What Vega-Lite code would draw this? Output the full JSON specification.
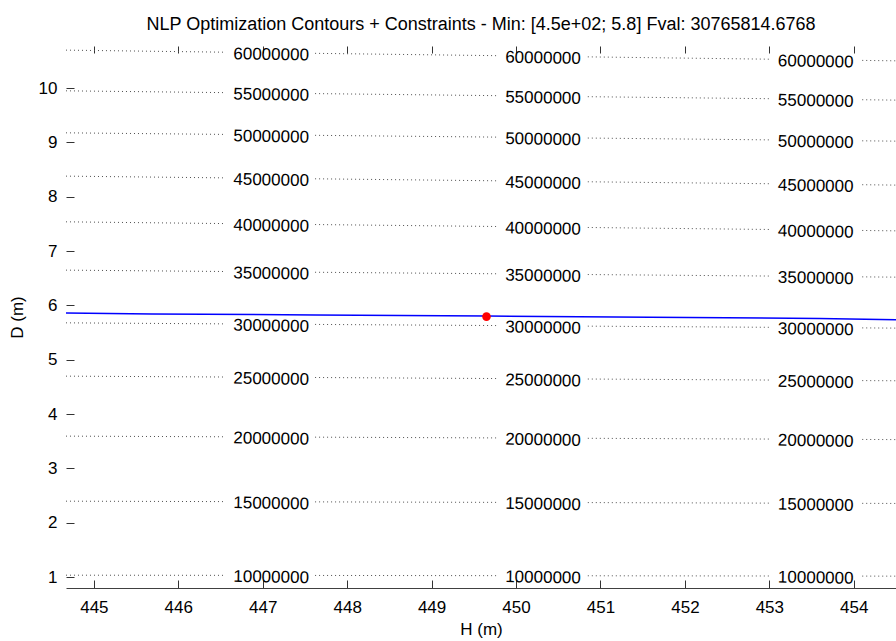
{
  "$schema": "https://vega.github.io/schema/vega-lite/v6.json",
  "autosize": {"type": "none"},
  "padding": {"left": 66, "top": 46, "right": 0, "bottom": 53},
  "width": 830,
  "height": 542,
  "background": "white",
  "config": {
    "font": "Liberation Sans",
    "view": {"stroke": null},
    "axis": {"grid": false}
  },
  "title": {
    "text": "NLP Optimization Contours + Constraints - Min: [4.5e+02; 5.8] Fval: 30765814.6768",
    "fontSize": 18,
    "fontWeight": "normal",
    "color": "#000000",
    "font": "Liberation Sans",
    "offset": 11,
    "anchor": "middle"
  },
  "datasets": {
    "contours": [
      {"k":"60-1","H":444.67,"D":10.699},{"k":"60-1","H":446.55,"D":10.661},
      {"k":"60-2","H":447.62,"D":10.640},{"k":"60-2","H":449.77,"D":10.597},
      {"k":"60-3","H":450.85,"D":10.575},{"k":"60-3","H":453.01,"D":10.532},
      {"k":"60-4","H":454.10,"D":10.510},{"k":"60-4","H":454.5,"D":10.502},
      {"k":"55-1","H":444.67,"D":9.950},{"k":"55-1","H":446.55,"D":9.917},
      {"k":"55-2","H":447.62,"D":9.899},{"k":"55-2","H":449.77,"D":9.861},
      {"k":"55-3","H":450.85,"D":9.842},{"k":"55-3","H":453.01,"D":9.805},
      {"k":"55-4","H":454.10,"D":9.786},{"k":"55-4","H":454.5,"D":9.779},
      {"k":"50-1","H":444.67,"D":9.177},{"k":"50-1","H":446.55,"D":9.148},
      {"k":"50-2","H":447.62,"D":9.131},{"k":"50-2","H":449.77,"D":9.098},
      {"k":"50-3","H":450.85,"D":9.081},{"k":"50-3","H":453.01,"D":9.047},
      {"k":"50-4","H":454.10,"D":9.030},{"k":"50-4","H":454.5,"D":9.024},
      {"k":"45-1","H":444.67,"D":8.380},{"k":"45-1","H":446.55,"D":8.348},
      {"k":"45-2","H":447.62,"D":8.331},{"k":"45-2","H":449.77,"D":8.294},
      {"k":"45-3","H":450.85,"D":8.276},{"k":"45-3","H":453.01,"D":8.240},
      {"k":"45-4","H":454.10,"D":8.222},{"k":"45-4","H":454.5,"D":8.215},
      {"k":"40-1","H":444.67,"D":7.539},{"k":"40-1","H":446.55,"D":7.507},
      {"k":"40-2","H":447.62,"D":7.489},{"k":"40-2","H":449.77,"D":7.453},
      {"k":"40-3","H":450.85,"D":7.435},{"k":"40-3","H":453.01,"D":7.398},
      {"k":"40-4","H":454.10,"D":7.380},{"k":"40-4","H":454.5,"D":7.373},
      {"k":"35-1","H":444.67,"D":6.650},{"k":"35-1","H":446.55,"D":6.625},
      {"k":"35-2","H":447.62,"D":6.611},{"k":"35-2","H":449.77,"D":6.583},
      {"k":"35-3","H":450.85,"D":6.569},{"k":"35-3","H":453.01,"D":6.541},
      {"k":"35-4","H":454.10,"D":6.526},{"k":"35-4","H":454.5,"D":6.521},
      {"k":"30-1","H":444.67,"D":5.680},{"k":"30-1","H":446.55,"D":5.661},
      {"k":"30-2","H":447.62,"D":5.651},{"k":"30-2","H":449.77,"D":5.630},
      {"k":"30-3","H":450.85,"D":5.619},{"k":"30-3","H":453.01,"D":5.598},
      {"k":"30-4","H":454.10,"D":5.587},{"k":"30-4","H":454.5,"D":5.583},
      {"k":"25-1","H":444.67,"D":4.699},{"k":"25-1","H":446.55,"D":4.683},
      {"k":"25-2","H":447.62,"D":4.674},{"k":"25-2","H":449.77,"D":4.655},
      {"k":"25-3","H":450.85,"D":4.646},{"k":"25-3","H":453.01,"D":4.627},
      {"k":"25-4","H":454.10,"D":4.617},{"k":"25-4","H":454.5,"D":4.614},
      {"k":"20-1","H":444.67,"D":3.595},{"k":"20-1","H":446.55,"D":3.583},
      {"k":"20-2","H":447.62,"D":3.576},{"k":"20-2","H":449.77,"D":3.562},
      {"k":"20-3","H":450.85,"D":3.555},{"k":"20-3","H":453.01,"D":3.541},
      {"k":"20-4","H":454.10,"D":3.534},{"k":"20-4","H":454.5,"D":3.531},
      {"k":"15-1","H":444.67,"D":2.398},{"k":"15-1","H":446.55,"D":2.390},
      {"k":"15-2","H":447.62,"D":2.385},{"k":"15-2","H":449.77,"D":2.376},
      {"k":"15-3","H":450.85,"D":2.372},{"k":"15-3","H":453.01,"D":2.362},
      {"k":"15-4","H":454.10,"D":2.358},{"k":"15-4","H":454.5,"D":2.356},
      {"k":"10-1","H":444.67,"D":1.036},{"k":"10-1","H":446.55,"D":1.033},
      {"k":"10-2","H":447.62,"D":1.031},{"k":"10-2","H":449.77,"D":1.027},
      {"k":"10-3","H":450.85,"D":1.025},{"k":"10-3","H":453.01,"D":1.021},
      {"k":"10-4","H":454.10,"D":1.019},{"k":"10-4","H":454.5,"D":1.018}
    ],
    "labels": [
      {"t":"60000000","H":447.10,"D":10.650},{"t":"60000000","H":450.32,"D":10.586},{"t":"60000000","H":453.55,"D":10.521},
      {"t":"55000000","H":447.10,"D":9.908},{"t":"55000000","H":450.32,"D":9.852},{"t":"55000000","H":453.55,"D":9.796},
      {"t":"50000000","H":447.10,"D":9.139},{"t":"50000000","H":450.32,"D":9.089},{"t":"50000000","H":453.55,"D":9.039},
      {"t":"45000000","H":447.10,"D":8.339},{"t":"45000000","H":450.32,"D":8.285},{"t":"45000000","H":453.55,"D":8.231},
      {"t":"40000000","H":447.10,"D":7.498},{"t":"40000000","H":450.32,"D":7.444},{"t":"40000000","H":453.55,"D":7.389},
      {"t":"35000000","H":447.10,"D":6.618},{"t":"35000000","H":450.32,"D":6.576},{"t":"35000000","H":453.55,"D":6.534},
      {"t":"30000000","H":447.10,"D":5.656},{"t":"30000000","H":450.32,"D":5.624},{"t":"30000000","H":453.55,"D":5.592},
      {"t":"25000000","H":447.10,"D":4.678},{"t":"25000000","H":450.32,"D":4.650},{"t":"25000000","H":453.55,"D":4.622},
      {"t":"20000000","H":447.10,"D":3.579},{"t":"20000000","H":450.32,"D":3.558},{"t":"20000000","H":453.55,"D":3.537},
      {"t":"15000000","H":447.10,"D":2.388},{"t":"15000000","H":450.32,"D":2.374},{"t":"15000000","H":453.55,"D":2.360},
      {"t":"10000000","H":447.10,"D":1.032},{"t":"10000000","H":450.32,"D":1.026},{"t":"10000000","H":453.55,"D":1.020}
    ],
    "constraint": [
      {"H":444.67,"D":5.859},{"H":445.69,"D":5.844},{"H":447.62,"D":5.826},
      {"H":449.66,"D":5.804},{"H":451.59,"D":5.785},{"H":453.59,"D":5.758},{"H":454.5,"D":5.735}
    ],
    "optimum": [
      {"H":449.65,"D":5.795}
    ]
  },
  "resolve": {"axis": {"x": "independent"}},
  "layer": [
    {
      "data": {"name": "contours"},
      "mark": {"type": "line", "color": "#505050", "strokeWidth": 1, "strokeDash": [1, 3], "clip": true},
      "encoding": {
        "x": {"field": "H", "type": "quantitative",
          "scale": {"domain": [444.67, 454.5], "nice": false, "zero": false},
          "axis": {"orient": "bottom", "values": [445,446,447,448,449,450,451,452,453,454], "format": "d",
            "tickSize": -8, "tickColor": "#333333", "domain": true, "domainColor": "#404040",
            "labelFontSize": 17, "labelColor": "#000000", "labelPadding": 19, "labelFont": "Liberation Sans",
            "title": "H (m)", "titleFontSize": 17, "titleFontWeight": "normal", "titleColor": "#000000",
            "titleFont": "Liberation Sans", "titlePadding": 6}},
        "y": {"field": "D", "type": "quantitative",
          "scale": {"domain": [0.8, 10.775], "nice": false, "zero": false},
          "axis": {"orient": "left", "values": [1,2,3,4,5,6,7,8,9,10], "format": "d",
            "tickSize": -8, "tickColor": "#333333", "domain": false,
            "labelFontSize": 17, "labelColor": "#000000", "labelPadding": 17, "labelFont": "Liberation Sans",
            "title": "D (m)", "titleFontSize": 17, "titleFontWeight": "normal", "titleColor": "#000000",
            "titleFont": "Liberation Sans", "titlePadding": 12}},
        "detail": {"field": "k", "type": "nominal"}
      }
    },
    {
      "data": {"name": "labels"},
      "mark": {"type": "text", "fontSize": 17, "font": "Liberation Sans", "color": "#000000", "align": "center", "baseline": "middle", "dy": 2, "angle": 1},
      "encoding": {
        "x": {"field": "H", "type": "quantitative", "scale": {"domain": [444.67, 454.5], "nice": false, "zero": false}, "axis": null},
        "y": {"field": "D", "type": "quantitative", "scale": {"domain": [0.8, 10.775], "nice": false, "zero": false}},
        "text": {"field": "t", "type": "nominal"}
      }
    },
    {
      "data": {"name": "constraint"},
      "mark": {"type": "line", "color": "#0000ff", "strokeWidth": 1.5},
      "encoding": {
        "x": {"field": "H", "type": "quantitative", "scale": {"domain": [444.67, 454.5], "nice": false, "zero": false}, "axis": null},
        "y": {"field": "D", "type": "quantitative", "scale": {"domain": [0.8, 10.775], "nice": false, "zero": false}}
      }
    },
    {
      "data": {"name": "optimum"},
      "mark": {"type": "point", "shape": "circle", "filled": true, "color": "#ff0000", "opacity": 1, "size": 75},
      "encoding": {
        "x": {"field": "H", "type": "quantitative", "scale": {"domain": [444.67, 454.5], "nice": false, "zero": false}, "axis": null},
        "y": {"field": "D", "type": "quantitative", "scale": {"domain": [0.8, 10.775], "nice": false, "zero": false}}
      }
    },
    {
      "data": {"name": "optimum"},
      "mark": {"type": "point", "opacity": 0},
      "encoding": {
        "x": {"field": "H", "type": "quantitative", "scale": {"domain": [444.67, 454.5], "nice": false, "zero": false},
          "axis": {"orient": "top", "values": [445,446,447,448,449,450,451,452,453,454], "labels": false, "domain": false,
            "tickSize": -7, "tickColor": "#333333", "title": null}},
        "y": {"field": "D", "type": "quantitative", "scale": {"domain": [0.8, 10.775], "nice": false, "zero": false}}
      }
    }
  ]
}
